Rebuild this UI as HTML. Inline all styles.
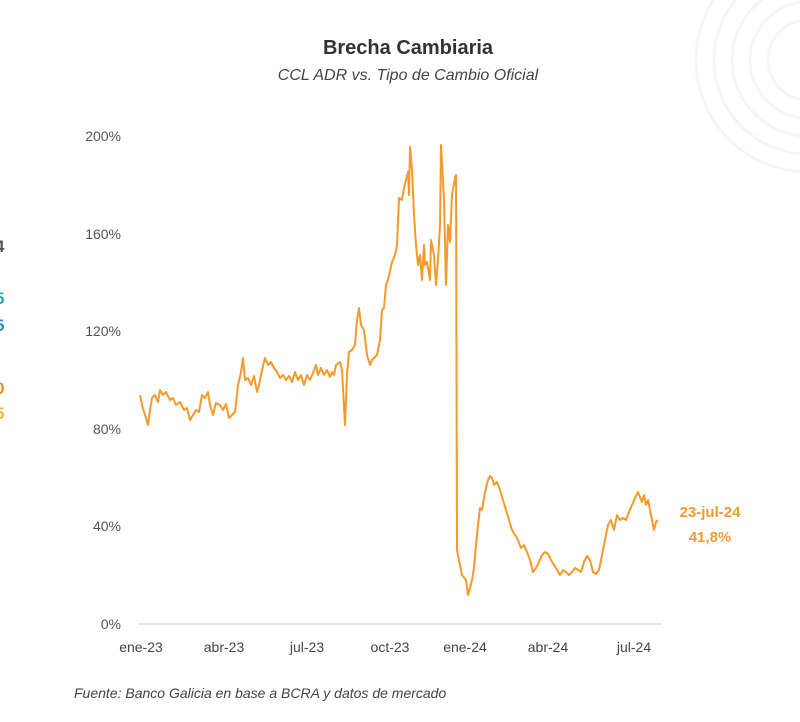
<!DOCTYPE html>
<html><head><meta charset="utf-8"><style>
body{margin:0;background:#fff;}
svg{display:block;font-family:"Liberation Sans",sans-serif;}
</style></head><body>
<svg width="800" height="722" viewBox="0 0 800 722">
<g fill="none" stroke="#f5f5f5" stroke-width="3">
<circle cx="808" cy="60" r="40"/><circle cx="808" cy="60" r="58"/><circle cx="808" cy="60" r="76"/><circle cx="808" cy="60" r="94"/><circle cx="808" cy="60" r="112"/>
</g>
<g font-size="17" font-weight="bold">
<text x="-5" y="252" fill="#555">4</text>
<text x="-5" y="304" fill="#2aa6b8">5</text>
<text x="-5" y="331" fill="#2a8fc0">5</text>
<text x="-5" y="394" fill="#f08a1c">0</text>
<text x="-5" y="419" fill="#f5b547">5</text>
</g>
<text x="408" y="54" text-anchor="middle" font-size="20" font-weight="bold" fill="#333">Brecha Cambiaria</text>
<text x="408" y="80" text-anchor="middle" font-size="16" font-style="italic" fill="#444">CCL ADR vs. Tipo de Cambio Oficial</text>
<g font-size="14" fill="#555" text-anchor="end">
<text x="121" y="141">200%</text>
<text x="121" y="239">160%</text>
<text x="121" y="336">120%</text>
<text x="121" y="434">80%</text>
<text x="121" y="531">40%</text>
<text x="121" y="629">0%</text>
</g>
<line x1="138" y1="624" x2="662" y2="624" stroke="#d0d0d0" stroke-width="1"/>
<g font-size="14" fill="#444" text-anchor="middle">
<text x="141" y="652">ene-23</text>
<text x="224" y="652">abr-23</text>
<text x="307" y="652">jul-23</text>
<text x="390" y="652">oct-23</text>
<text x="465" y="652">ene-24</text>
<text x="548" y="652">abr-24</text>
<text x="634" y="652">jul-24</text>
</g>
<polyline fill="none" stroke="#f39a2b" stroke-width="2" stroke-linejoin="round" points="140,395 142,405 145,415 148,425 150,410 152,398 155,395 158,402 160,390 163,395 166,392 170,400 173,398 176,405 180,402 184,410 187,408 190,420 193,415 196,410 199,412 202,395 205,398 208,392 210,405 213,415 216,403 220,405 223,410 226,404 229,418 232,415 235,412 238,385 241,372 243,358 245,380 248,378 251,385 254,376 257,392 259,385 262,370 265,358 268,365 271,362 274,368 277,372 280,378 283,375 286,380 289,376 292,382 295,372 298,380 301,375 304,385 307,375 310,380 313,373 316,365 318,375 321,368 324,375 327,370 330,377 332,372 334,375 336,365 340,362 342,370 345,425 347,375 349,352 352,350 355,345 357,320 359,308 361,325 364,330 367,355 370,365 372,360 374,358 377,355 380,340 382,310 384,308 386,285 388,280 392,262 395,255 397,245 399,198 402,200 404,188 406,180 408,172 409,195 410,147 412,170 414,215 416,245 418,265 420,255 422,280 424,245 425,265 427,262 430,280 431,240 434,255 436,285 438,260 440,225 441,145 444,200 446,285 448,225 450,242 452,195 455,178 456,175 457,550 460,565 462,575 466,580 468,595 470,588 472,580 474,568 476,545 478,525 480,508 482,510 485,492 488,480 490,476 492,478 494,485 497,482 500,490 503,500 506,510 509,520 512,530 515,535 518,540 521,548 524,545 527,552 530,560 533,572 536,568 539,562 542,555 545,552 548,554 551,560 554,565 557,570 560,575 563,570 566,572 569,575 572,572 575,568 578,570 581,572 584,562 587,556 590,560 593,572 596,574 599,570 602,555 605,540 608,525 611,520 614,530 617,515 620,520 623,518 626,520 629,512 632,505 635,498 638,492 640,497 642,502 644,495 646,505 648,500 650,510 652,520 654,530 656,522 658,520"/>
<g font-size="15" font-weight="bold" fill="#f39a2b" text-anchor="middle">
<text x="710" y="517">23-jul-24</text>
<text x="710" y="542">41,8%</text>
</g>
<text x="74" y="698" font-size="14" font-style="italic" fill="#444">Fuente: Banco Galicia en base a BCRA y datos de mercado</text>
</svg>
</body></html>
